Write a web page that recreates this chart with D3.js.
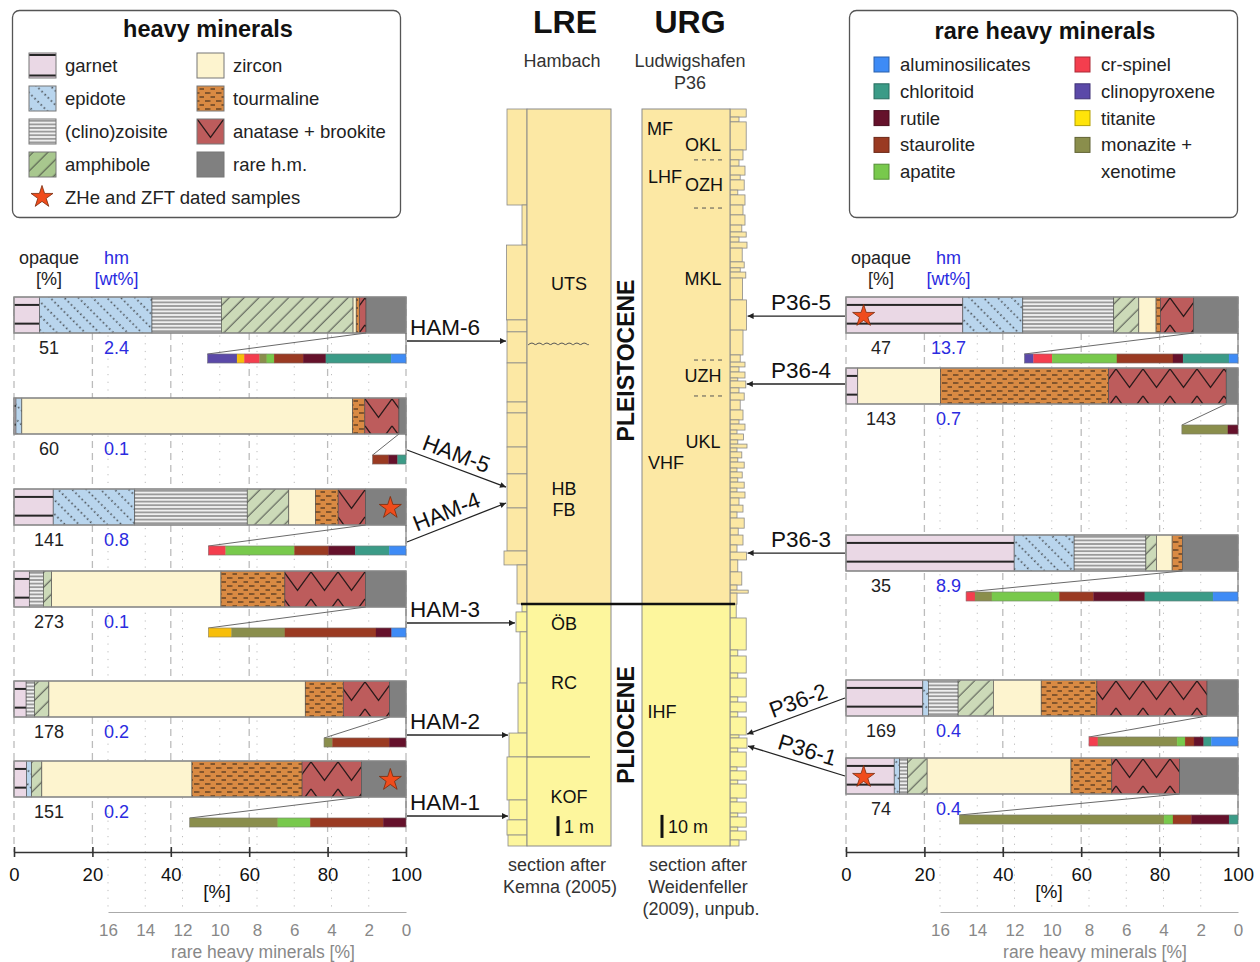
<!DOCTYPE html>
<html><head><meta charset="utf-8"><title>heavy minerals</title>
<script src="https://cdn.jsdelivr.net/npm/d3@7/dist/d3.min.js"></script>
<style>
html,body{margin:0;padding:0;background:#fff;}
svg{display:block;}
text{font-family:"Liberation Sans",Arial,Helvetica,sans-serif;}
</style></head><body>
<svg id="chart" width="1260" height="962"></svg>
<script>
// ================= DATA =================
const heavyMinerals = ["garnet","epidote","(clino)zoisite","amphibole","zircon","tourmaline","anatase + brookite","rare h.m."];
const rareMinerals  = ["clinopyroxene","titanite","cr-spinel","monazite + xenotime","apatite","staurolite","rutile","chloritoid","aluminosilicates"];
const mainTicks = [0,20,40,60,80,100];
const rareTicks = [0,2,4,6,8,10,12,14,16];

// LRE (Hambach) samples, heavy minerals [%] in heavyMinerals order
const hamSamples = ["HAM-6","HAM-5","HAM-4","HAM-3","HAM-2","HAM-1"];
const HAM6 = [6.5,28.7,17.7,33.6,0.8,0.8,1.7,10.2];
const HAM5 = [0.5,1.5,0,0,84.4,3.1,8.7,1.8];
const HAM4 = [10,20.8,28.7,10.6,6.8,5.8,7,10.3];
const HAM3 = [3.9,0,3.6,2.1,43.2,16.3,20.6,10.3];
const HAM2 = [3.1,0,2.1,3.7,65.4,9.7,11.8,4.2];
const HAM1 = [3.2,1.3,0,2.6,38.3,28.1,15.1,11.4];
// rare heavy minerals [%] in rareMinerals order
const HAM6_rare = [1.58,0.39,0.82,0.39,0.39,1.56,1.22,3.5,0.8];
const HAM5_rare = [0,0,0,0,0,0.86,0.48,0.45,0];
const HAM4_rare = [0,0,0.93,0,3.69,1.83,1.43,1.83,0.9];
const HAM3_rare = [0,1.24,0,2.87,0,4.89,0.84,0,0.77];
const HAM2_rare = [0,0,0,0.45,0,3.05,0.9,0,0];
const HAM1_rare = [0,0,0,4.73,1.74,3.92,1.22,0,0];
const hamOpaque = [51,60,141,273,178,151];
const hamWt = ["2.4","0.1","0.8","0.1","0.2","0.2"];
const hamDated = [false,false,true,false,false,true];
const hamDepth = [11.65,18.98,19.78,25.8,31.43,35.5];   // m in LRE section

// URG (Ludwigshafen P36) samples
const p36Samples = ["P36-5","P36-4","P36-3","P36-2","P36-1"];
const P36_5 = [29.8,15.3,23.2,6.4,4.4,1.1,8.5,11.3];
const P36_4 = [3.0,0,0,0,21.1,42.9,30.0,3.0];
const P36_3 = [42.9,15.3,18.3,2.7,4.0,2.6,0,14.2];
const P36_2 = [19.6,1.4,7.6,9.0,12.2,14.2,28.1,7.9];
const P36_1 = [12.3,1.4,2.0,5.0,36.7,10.4,17.3,14.9];
const P36_5_rare = [0.48,0,1.0,0,3.48,3.01,0.54,2.47,0.48];
const P36_4_rare = [0,0,0,2.47,0,0,0.54,0,0];
const P36_3_rare = [0,0,0.48,0.91,3.62,1.83,2.76,3.66,1.34];
const P36_2_rare = [0,0,0.48,4.25,0.43,0.48,0.52,0.41,1.43];
const P36_1_rare = [0,0,0,10.98,0.48,0.99,2.02,0.48,0];
const p36Opaque = [47,143,35,169,74];
const p36Wt = ["13.7","0.7","8.9","0.4","0.4"];
const p36Dated = [true,false,false,false,true];
const p36Depth = [89.9,119.4,192.8,271.4,276.6];        // m in URG section

// stratigraphic sections: bed tops [m] and grain-size class
const lreBedTop   = [0,4.82,6.83,10.59,11.19,12.75,14.71,15.26,16.97,18.32,20.03,22.19,22.89,24.85,25.25,26.25,28.82,31.33,32.53,34.69,35.69,36.45];
const lreBedGrain = [4,1,4.1,4,4,4,4,4,4,4,4,4.6,2,1,2.2,1.4,1.8,3.6,4,3.6,4,3.8];
const lreUnits = ["UTS","HB","FB","ÖB","RC","KOF"];
const lreUnitDepth = [8.74,19.03,20.13,25.85,28.8,34.54];
const urgBedTop   = [0,3.5,5.6,17.8,22.1,24.8,28.7,30.8,35.2,37.3,41.7,46,50.4,53.4,55.6,57.8,60.4,66.4,69,70.8,73.4,82.9,96,106.8,109.9,112,114.2,116.8,118.1,121.1,123.3,126.4,130.7,135,136.8,139.4,141.1,143.7,145.5,147.2,148.9,151.5,153.3,155.9,157.6,160.2,162,164.6,166.3,168.9,172,175,177.6,182,185,189.3,192.4,195.8,201,206.7,208.9,210.2,
                     215,221,234.9,237.5,244.9,247.1,255.3,257.5,261.8,264,271.8,273.1,277.5,279.2,285.7,287.4,291.4,293.1,299.2,300.9,305.7,307.4,311.8,313.5,317.4];
const urgBedGrain = [3.3,1.5,3.3,2.5,1.5,3,1.8,2.8,1.2,3,2.5,3,2.2,3.3,1.5,3.5,2.3,2.8,1.8,3.2,2.4,3.4,2.5,1.8,3,1.5,3,1.2,3.2,1.5,2.8,1.8,2.5,1.5,3,1,2.6,1.2,3.5,1,2.2,1.2,2.8,1,2.3,1.2,2.8,1,3,1.5,2.5,1,2.8,1.3,2.5,1,3.4,1.2,2.2,1,3.8,1,
                     0.8,3.3,1.2,3.3,1.2,3.3,1.2,3.3,1.2,3.3,1.5,3.5,1.2,3.3,1,3.3,1.2,3.3,1,3.3,1.2,3.3,1.2,3.3,1.5];
const urgUnits = ["MF","OKL","LHF","OZH","MKL","UZH","UKL","VHF","IHF"];
const urgUnitDepth = [8.25,15.2,29.1,32.6,73.4,115.5,144.2,153.3,261.8];
const urgUnitBounds = [22.1,43,109,124.6];
const lreWavyDepth = 11.85, lreKofTop = 32.53;
const lreBoundary = 24.85, urgBoundary = 215;

// ================= LAYOUT =================
const hamRowTop = [297,398,489,571,681,761];
const p36RowTop = [297,368,535,680,758];
const hamArrowStartOffset = [44,52,53,52,54,55];
const lreUnitX = [569,564,564,564,564,569];
const urgUnitX = [660,703,665,704,703,703,703,666,662];
const BAR_H = 36, RARE_OFF = 57, RARE_H = 9;
const Y_TOP = 297, Y_AXIS = 852, Y_RARE = 912;

// ================= SETUP =================
const svg = d3.select("#chart");
const defs = svg.append("defs");
const hmColor = d3.scaleOrdinal().domain(heavyMinerals)
  .range(["#ead8e5","#b9d5ed","#efefef","#ccdab8","#fdf4cf","#d98a43","#bd5c5c","#808080"]);
const rareColor = d3.scaleOrdinal().domain(rareMinerals)
  .range(["#5b49a8","#f7be0a","#f43e4e","#8a8e4c","#78c94c","#9a3a22","#65112b","#3b9b87","#3e8bf6"]);
const rareLegendColor = d3.scaleOrdinal().domain(rareMinerals)
  .range(["#5b49a8","#ffe40a","#f43e4e","#8a8e4c","#78c94c","#9a3a22","#65112b","#3b9b87","#3e8bf6"]);
const TXT = "#222", BLUE = "#2b2be0", GREY = "#888";

function makePattern(id, k, ox, oy, h, fill, lineFr){
  const p = defs.append("pattern").attr("id",id).attr("patternUnits","userSpaceOnUse");
  fill = fill || hmColor(heavyMinerals[k]);
  if (k===0){ // garnet
    p.attr("x",ox).attr("y",oy).attr("width",20).attr("height",h);
    p.append("rect").attr("width",20).attr("height",h).attr("fill",fill);
    (lineFr||[0.22,0.74]).forEach(f=>p.append("rect").attr("x",0).attr("y",h*f-1).attr("width",20).attr("height",2).attr("fill","#262626"));
  } else if (k===1){ // epidote
    p.attr("width",4.4).attr("height",10).attr("patternTransform","rotate(45)");
    p.append("rect").attr("width",4.4).attr("height",10).attr("fill",fill);
    p.append("circle").attr("cx",2.2).attr("cy",5).attr("r",0.85).attr("fill","#2a2a2a");
  } else if (k===2){ // zoisite
    p.attr("width",8).attr("height",3.6).attr("y",oy);
    p.append("rect").attr("width",8).attr("height",3.6).attr("fill",fill);
    p.append("line").attr("x1",0).attr("x2",8).attr("y1",1.8).attr("y2",1.8).attr("stroke","#555").attr("stroke-width",1);
  } else if (k===3){ // amphibole
    p.attr("width",10).attr("height",10.5).attr("patternTransform","rotate(-45)");
    p.append("rect").attr("width",10).attr("height",10.5).attr("fill",fill);
    p.append("line").attr("x1",0).attr("x2",10).attr("y1",5).attr("y2",5).attr("stroke","#3a3a3a").attr("stroke-width",0.9);
  } else if (k===5){ // tourmaline
    p.attr("width",11).attr("height",8).attr("y",oy+1);
    p.append("rect").attr("width",11).attr("height",8).attr("fill",fill);
    [[1.5,6,2],[7,11,6],[0,1.5,6]].forEach(s=>p.append("line").attr("x1",s[0]).attr("x2",s[1]).attr("y1",s[2]).attr("y2",s[2]).attr("stroke","#3b2a1a").attr("stroke-width",1.1));
  } else if (k===6){ // anatase
    p.attr("x",ox).attr("y",oy).attr("width",27).attr("height",27);
    p.append("rect").attr("width",27).attr("height",27).attr("fill",fill);
    p.append("path").attr("d","M0,1 L13.5,19.5 L27,1").attr("fill","none").attr("stroke","#2a1a1a").attr("stroke-width",1.3);
  }
  return `url(#${id})`;
}
function fillFor(k, id, ox, oy, h){
  if (k===4 || k===7) return hmColor(heavyMinerals[k]);
  return makePattern(id, k, ox, oy, h);
}

const star = d3.symbol().type(d3.symbolStar).size(150);
function drawStar(g, x, y){
  g.append("path").attr("d",star()).attr("transform",`translate(${x},${y+1})`)
   .attr("fill","#f04c1c").attr("stroke","#7a2a0a").attr("stroke-width",0.8);
}

// arrow marker
defs.append("marker").attr("id","arr").attr("viewBox","0 0 10 10").attr("refX",10).attr("refY",5)
  .attr("markerWidth",10).attr("markerHeight",6).attr("markerUnits","userSpaceOnUse").attr("orient","auto")
  .append("path").attr("d","M0,0 L10,5 L0,10 z").attr("fill","#222");

// ================= PANELS =================
function drawPanel(P){
  const g = svg.append("g");
  const x = d3.scaleLinear().domain([0,100]).range([P.x0, P.x0+392]);
  const r = d3.scaleLinear().domain([0,16]).range([P.x0+392, P.x0+94]);
  // gridlines
  g.selectAll(null).data(rareTicks.filter(d=>d>0)).join("line")
    .attr("x1",d=>r(d)).attr("x2",d=>r(d)).attr("y1",Y_TOP).attr("y2",Y_RARE)
    .attr("stroke","#bdbdbd").attr("stroke-width",1).attr("stroke-dasharray","1.2,6.5");
  g.selectAll(null).data(mainTicks).join("line")
    .attr("x1",d=>x(d)).attr("x2",d=>x(d)).attr("y1",Y_TOP).attr("y2",Y_AXIS)
    .attr("stroke","#bcbcbc").attr("stroke-width",1.3).attr("stroke-dasharray","7,5");
  // header
  const hx1 = P.x0+35, hx2 = P.x0+102.5;
  [["opaque",hx1,264,TXT],["[%]",hx1,285,TXT],["hm",hx2,264,BLUE],["[wt%]",hx2,285,BLUE]].forEach(t=>
    g.append("text").attr("x",t[1]).attr("y",t[2]).attr("text-anchor","middle").attr("font-size",18).attr("fill",t[3]).text(t[0]));

  P.samples.forEach((name,i)=>{
    const top = P.rowTop[i], vals = P.hm[i], rare = P.rare[i];
    const cum = d3.cumsum(vals);
    const segs = vals.map((v,k)=>({k, a: k? cum[k-1]:0, b: cum[k], v})).filter(s=>s.v>0);
    g.selectAll(null).data(segs).join("rect")
      .attr("x",s=>x(s.a)).attr("width",s=>x(s.b)-x(s.a)).attr("y",top).attr("height",BAR_H)
      .attr("fill",s=>fillFor(s.k, `p${P.id}${i}_${s.k}`, P.x0, top, BAR_H))
      .attr("stroke","#4a4a4a").attr("stroke-width",0.6);
    g.append("rect").attr("x",x(0)).attr("y",top).attr("width",x(cum[7])-x(0)).attr("height",BAR_H)
      .attr("fill","none").attr("stroke","#8e8e8e").attr("stroke-width",1.4);
    // value labels
    g.append("text").attr("x",hx1).attr("y",top+56.5).attr("text-anchor","middle").attr("font-size",18).attr("fill",TXT).text(P.opaque[i]);
    g.append("text").attr("x",hx2).attr("y",top+56.5).attr("text-anchor","middle").attr("font-size",18).attr("fill",BLUE).text(P.wt[i]);
    // rare bar
    const rc = d3.cumsum(rare), rtot = rc[rc.length-1];
    const rTop = top+RARE_OFF;
    const rsegs = rare.map((v,k)=>({k, a:k? rc[k-1]:0, b:rc[k], v})).filter(s=>s.v>0);
    g.append("path").attr("d",`M${x(100-vals[7])},${top+BAR_H} L${r(rtot)},${rTop} M${x(100)},${top+BAR_H} L${x(100)},${rTop}`)
      .attr("fill","none").attr("stroke","#6a6a6a").attr("stroke-width",1);
    g.selectAll(null).data(rsegs).join("rect")
      .attr("x",s=>r(rtot - s.a)).attr("width",s=>r(rtot-s.b)-r(rtot-s.a)).attr("y",rTop).attr("height",RARE_H)
      .attr("fill",s=>rareColor(rareMinerals[s.k])).attr("stroke",s=>rareColor(rareMinerals[s.k])).attr("stroke-width",0.3);
    g.append("rect").attr("x",r(rtot)).attr("y",rTop).attr("width",r(0)-r(rtot)).attr("height",RARE_H)
      .attr("fill","none").attr("stroke","#777").attr("stroke-width",0.5);
    if (P.dated[i]) drawStar(g, x(P.starAt), top+BAR_H/2);
  });
  // main axis
  const ax = g.append("g").attr("transform",`translate(0,${Y_AXIS})`)
    .call(d3.axisBottom(x).tickValues(mainTicks).tickSize(5).tickSizeOuter(0).tickPadding(11));
  ax.select(".domain").attr("stroke","#333").attr("stroke-width",1.6);
  ax.selectAll(".tick line").attr("y1",-5).attr("stroke","#333").attr("stroke-width",1.6);
  ax.selectAll(".tick text").attr("font-size",18.5).attr("fill","#111").attr("font-family",'"Liberation Sans",Arial,sans-serif');
  g.append("text").attr("x",P.x0+203).attr("y",898).attr("text-anchor","middle").attr("font-size",19).attr("fill","#111").text("[%]");
  // rare axis
  const ra = g.append("g").attr("transform",`translate(0,${Y_RARE})`)
    .call(d3.axisBottom(r).tickValues(rareTicks).tickSize(0).tickSizeOuter(0).tickPadding(12));
  ra.select(".domain").attr("stroke","#aaa").attr("stroke-width",1.2);
  ra.selectAll(".tick text").attr("font-size",17).attr("fill",GREY).attr("font-family",'"Liberation Sans",Arial,sans-serif');
  g.append("text").attr("x",P.x0+249).attr("y",958).attr("text-anchor","middle").attr("font-size",17.5).attr("fill",GREY).text("rare heavy minerals [%]");
  return x;
}

drawPanel({id:"L", x0:14, samples:hamSamples, rowTop:hamRowTop,
  hm:[HAM6,HAM5,HAM4,HAM3,HAM2,HAM1], rare:[HAM6_rare,HAM5_rare,HAM4_rare,HAM3_rare,HAM2_rare,HAM1_rare],
  opaque:hamOpaque, wt:hamWt, dated:hamDated, starAt:96});
drawPanel({id:"R", x0:846, samples:p36Samples, rowTop:p36RowTop,
  hm:[P36_5,P36_4,P36_3,P36_2,P36_1], rare:[P36_5_rare,P36_4_rare,P36_3_rare,P36_2_rare,P36_1_rare],
  opaque:p36Opaque, wt:p36Wt, dated:p36Dated, starAt:4.5});

// ================= SECTIONS =================
const colG = svg.append("g");
const lreY = d3.scaleLinear().domain([0,37]).range([109,846]);
const urgY = d3.scaleLinear().domain([0,320]).range([109,846]);
const lreGrain = d3.scaleLinear().domain([0,4]).range([527,507]);
const urgGrain = d3.scaleLinear().domain([0,4]).range([733,749]);
const PLEI = "#fce8a4", PLIO = "#fdf69d", OUT = "#8a8a8a";

function beds(tops, grains, maxD, boundary){
  return tops.map((t,i)=>({top:t, bot: i<tops.length-1? tops[i+1]:maxD, g:grains[i], plei: t<boundary}));
}
const lreBeds = beds(lreBedTop, lreBedGrain, 37, lreBoundary);
const urgBeds = beds(urgBedTop, urgBedGrain, 320, urgBoundary);
function grainAt(bs, d){ return bs.find(b=>d>=b.top && d<b.bot).g; }

colG.selectAll(null).data(lreBeds).join("rect")
  .attr("x",b=>lreGrain(b.g)).attr("width",b=>lreGrain(0)-lreGrain(b.g))
  .attr("y",b=>lreY(b.top)).attr("height",b=>lreY(b.bot)-lreY(b.top))
  .attr("fill",b=>b.plei?PLEI:PLIO).attr("stroke",OUT).attr("stroke-width",0.8);
colG.selectAll(null).data(urgBeds).join("rect")
  .attr("x",urgGrain(0)-3).attr("width",b=>urgGrain(b.g)-urgGrain(0)+3)
  .attr("y",b=>urgY(b.top)).attr("height",b=>urgY(b.bot)-urgY(b.top))
  .attr("fill",b=>b.plei?PLEI:PLIO).attr("stroke",OUT).attr("stroke-width",0.8);
// main columns
[[527,611,lreY,lreBoundary,37],[642,730,urgY,urgBoundary,320]].forEach(c=>{
  colG.append("rect").attr("x",c[0]).attr("width",c[1]-c[0]).attr("y",c[2](0)).attr("height",c[2](c[3])-c[2](0)).attr("fill",PLEI).attr("stroke",OUT).attr("stroke-width",1);
  colG.append("rect").attr("x",c[0]).attr("width",c[1]-c[0]).attr("y",c[2](c[3])).attr("height",c[2](c[4])-c[2](c[3])).attr("fill",PLIO).attr("stroke",OUT).attr("stroke-width",1);
});
colG.append("line").attr("x1",521).attr("x2",735).attr("y1",lreY(lreBoundary)).attr("y2",lreY(lreBoundary)).attr("stroke","#111").attr("stroke-width",2.6);
// wavy unconformity
const wy = lreY(lreWavyDepth);
colG.append("path").attr("d", d3.line().curve(d3.curveBasis)(d3.range(0,62,1).map(i=>[528+i, wy - 2*Math.abs(Math.sin(i*Math.PI/7.5))])))
  .attr("fill","none").attr("stroke","#555").attr("stroke-width",1);
colG.append("line").attr("x1",527).attr("x2",590).attr("y1",lreY(lreKofTop)).attr("y2",lreY(lreKofTop)).attr("stroke","#666").attr("stroke-width",1);
colG.selectAll(null).data(urgUnitBounds).join("line")
  .attr("x1",694).attr("x2",722).attr("y1",d=>urgY(d)).attr("y2",d=>urgY(d))
  .attr("stroke","#555").attr("stroke-width",1).attr("stroke-dasharray","4,4");
// unit labels
lreUnits.forEach((u,i)=>colG.append("text").attr("x",lreUnitX[i]).attr("y",lreY(lreUnitDepth[i])+6.5).attr("text-anchor","middle").attr("font-size",18).attr("fill","#111").text(u));
urgUnits.forEach((u,i)=>colG.append("text").attr("x",urgUnitX[i]).attr("y",urgY(urgUnitDepth[i])+6.5).attr("text-anchor","middle").attr("font-size",18).attr("fill","#111").text(u));
// scale bars
colG.append("line").attr("x1",558).attr("x2",558).attr("y1",lreY(35.5)).attr("y2",lreY(36.5)).attr("stroke","#111").attr("stroke-width",3);
colG.append("text").attr("x",564).attr("y",lreY(36)+6.5).attr("font-size",18).attr("fill","#111").text("1 m");
colG.append("line").attr("x1",662).attr("x2",662).attr("y1",urgY(306.5)).attr("y2",urgY(316.5)).attr("stroke","#111").attr("stroke-width",3);
colG.append("text").attr("x",668).attr("y",urgY(311.5)+6.5).attr("font-size",18).attr("fill","#111").text("10 m");
// epochs
colG.append("text").attr("transform",`translate(634,${(lreY(0)+lreY(lreBoundary))/2+4}) rotate(-90)`).attr("text-anchor","middle")
  .attr("font-size",23).attr("font-weight","bold").attr("fill","#111").text("PLEISTOCENE");
colG.append("text").attr("transform",`translate(634,${(lreY(lreBoundary)+lreY(37))/2}) rotate(-90)`).attr("text-anchor","middle")
  .attr("font-size",23).attr("font-weight","bold").attr("fill","#111").text("PLIOCENE");
// titles
[["LRE",565,33,32,"bold"],["URG",690,33,32,"bold"],["Hambach",562,67,18,"normal"],["Ludwigshafen",690,67,18,"normal"],["P36",690,89,18,"normal"],
 ["section after",557,871,18,"normal"],["Kemna (2005)",560,893,18,"normal"],["section after",698,871,18,"normal"],["Weidenfeller",698,893,18,"normal"],["(2009), unpub.",701,915,18,"normal"]]
 .forEach(t=>colG.append("text").attr("x",t[1]).attr("y",t[2]).attr("text-anchor","middle").attr("font-size",t[3]).attr("font-weight",t[4]).attr("fill",t[4]==="bold"?"#111":"#333").text(t[0]));

// ================= SAMPLE ARROWS =================
const arG = svg.append("g");
function sampleArrow(name, sx, sy, ex, ey, side){
  arG.append("line").attr("x1",sx).attr("y1",sy).attr("x2",ex).attr("y2",ey)
    .attr("stroke","#222").attr("stroke-width",1.3).attr("marker-end","url(#arr)");
  if (Math.abs(sy-ey) < 4){
    if (side==="L") arG.append("text").attr("x",sx+3).attr("y",Math.min(sy,ey)-6).attr("font-size",22.5).attr("fill","#111").text(name);
    else arG.append("text").attr("x",sx-14).attr("y",Math.min(sy,ey)-6).attr("text-anchor","end").attr("font-size",22.5).attr("fill","#111").text(name);
  } else {
    const L = sx<ex ? [sx,sy,ex,ey] : [ex,ey,sx,sy];
    const ang = Math.atan2(L[3]-L[1], L[2]-L[0])*180/Math.PI;
    const t = side==="L" ? 0.45 : 0.57;
    const mx = L[0]+(L[2]-L[0])*t, my = L[1]+(L[3]-L[1])*t;
    arG.append("text").attr("transform",`translate(${mx},${my}) rotate(${ang})`).attr("text-anchor","middle").attr("dy",-6)
      .attr("font-size",22.5).attr("fill","#111").text(name);
  }
}
hamSamples.forEach((n,i)=>{
  const ey = lreY(hamDepth[i]);
  sampleArrow(n, 407, hamRowTop[i]+hamArrowStartOffset[i], lreGrain(grainAt(lreBeds,hamDepth[i]))-1, ey, "L");
});
p36Samples.forEach((n,i)=>{
  const ey = urgY(p36Depth[i]);
  let sy = p36RowTop[i]+BAR_H/2; if (Math.abs(sy-ey)<4) sy = ey;
  sampleArrow(n, 845, sy, urgGrain(grainAt(urgBeds,p36Depth[i]))+1, ey, "R");
});

// ================= LEGENDS =================
const lg = svg.append("g");
lg.append("rect").attr("x",12.5).attr("y",10.5).attr("width",388).attr("height",207).attr("rx",7).attr("fill","#fff").attr("stroke","#555").attr("stroke-width",1.3);
lg.append("text").attr("x",208).attr("y",37).attr("text-anchor","middle").attr("font-size",23.5).attr("font-weight","bold").attr("fill","#111").text("heavy minerals");
heavyMinerals.forEach((m,k)=>{
  const col = Math.floor(k/4), row = k%4;
  const sx = col? 197:29, sy = 53 + row*33;
  let fill;
  if (k===0) fill = makePattern("lg0",0,sx,sy,25,null,[0.08,0.9]);
  else if (k===3) fill = makePattern("lg3",3,sx,sy,25,"#a8c78e");
  else if (k===6) fill = makePattern("lg6",6,sx,sy-1,25);
  else fill = fillFor(k,"lg"+k,sx,sy,25);
  lg.append("rect").attr("x",sx).attr("y",sy).attr("width",27).attr("height",25).attr("fill",fill).attr("stroke","#777").attr("stroke-width",1);
  lg.append("text").attr("x",sx+36).attr("y",sy+19).attr("font-size",18.5).attr("fill",TXT).text(m);
});
drawStar(lg, 42, 196);
lg.append("text").attr("x",65).attr("y",204).attr("font-size",18.5).attr("fill",TXT).text("ZHe and ZFT dated samples");

lg.append("rect").attr("x",849.5).attr("y",10.5).attr("width",388).attr("height",207).attr("rx",7).attr("fill","#fff").attr("stroke","#555").attr("stroke-width",1.3);
lg.append("text").attr("x",1045).attr("y",39).attr("text-anchor","middle").attr("font-size",23.5).attr("font-weight","bold").attr("fill","#111").text("rare heavy minerals");
const rareLegendOrder = ["aluminosilicates","chloritoid","rutile","staurolite","apatite","cr-spinel","clinopyroxene","titanite","monazite + xenotime"];
rareLegendOrder.forEach((m,i)=>{
  const col = i<5?0:1, row = i<5? i : i-5;
  const sx = col? 1075:874, cy = 65 + row*26.8;
  const c = rareLegendColor(m);
  lg.append("rect").attr("x",sx).attr("y",cy-8).attr("width",15).attr("height",15).attr("fill",c).attr("stroke",d3.color(c).darker(1)).attr("stroke-width",1);
  const lines = m==="monazite + xenotime" ? ["monazite +","xenotime"] : [m];
  lines.forEach((l,j)=>lg.append("text").attr("x",sx+26).attr("y",cy+6+j*27).attr("font-size",18.5).attr("fill",TXT).text(l));
});
</script></body></html>
